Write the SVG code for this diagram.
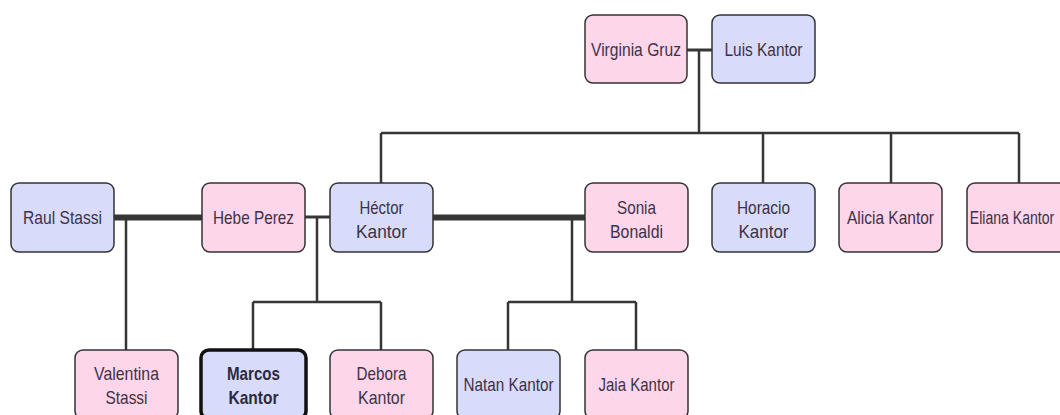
<svg xmlns="http://www.w3.org/2000/svg" width="1060" height="415" viewBox="0 0 1060 415">
  <style>
    .box { stroke: #333333; stroke-width: 1.5; }
    .f { fill: #fdd6ea; }
    .m { fill: #d8dcfa; }
    .self { stroke: #111111; stroke-width: 3.5; }
    .lbl { font-family: "Liberation Sans", Arial, sans-serif; font-size: 19px; fill: #3d3148; text-anchor: middle; }
    .bold { font-weight: bold; fill: #2c2a40; }
    .link { stroke: #363636; fill: none; stroke-width: 2.5; }
    .marriage { stroke: #363636; fill: none; stroke-width: 6; }
    .thin { stroke: #363636; fill: none; stroke-width: 3; }
  </style>
  <rect width="1060" height="415" fill="#ffffff"/>

  <!-- connectors -->
  <g id="connectors">
    <line class="thin" x1="687" y1="50" x2="712" y2="50" stroke-width="4"/>
    <path class="link" d="M699 50 V133 M381 133 H1019 M381 133 V183 M763 133 V183 M891 133 V183 M1019 133 V183"/>
    <line class="marriage" x1="114" y1="217.5" x2="202" y2="217.5"/>
    <path class="link" d="M126 217 V350"/>
    <line class="thin" x1="305" y1="217" x2="330" y2="217"/>
    <path class="link" d="M317 217 V302 M253 302 H381 M253 302 V350 M381 302 V350"/>
    <line class="marriage" x1="433" y1="217.5" x2="585" y2="217.5"/>
    <path class="link" d="M572 217 V302 M508 302 H636 M508 302 V350 M636 302 V350"/>
  </g>

  <!-- generation 1 -->
  <g id="virginia-gruz">
    <rect class="box f" x="585" y="15" width="102" height="68" rx="8"/>
    <text class="lbl" x="636" y="56" textLength="90" lengthAdjust="spacingAndGlyphs">Virginia Gruz</text>
  </g>
  <g id="luis-kantor">
    <rect class="box m" x="712" y="15" width="103" height="68" rx="8"/>
    <text class="lbl" x="763.5" y="56" textLength="78" lengthAdjust="spacingAndGlyphs">Luis Kantor</text>
  </g>

  <!-- generation 2 -->
  <g id="raul-stassi">
    <rect class="box m" x="11" y="183" width="103" height="69" rx="8"/>
    <text class="lbl" x="62.5" y="224" textLength="79" lengthAdjust="spacingAndGlyphs">Raul Stassi</text>
  </g>
  <g id="hebe-perez">
    <rect class="box f" x="202" y="183" width="103" height="69" rx="8"/>
    <text class="lbl" x="253.5" y="224" textLength="81" lengthAdjust="spacingAndGlyphs">Hebe Perez</text>
  </g>
  <g id="hector-kantor">
    <rect class="box m" x="330" y="183" width="103" height="69" rx="8"/>
    <text class="lbl" x="381.5" y="214" textLength="44" lengthAdjust="spacingAndGlyphs">Héctor</text>
    <text class="lbl" x="381.5" y="238" textLength="51" lengthAdjust="spacingAndGlyphs">Kantor</text>
  </g>
  <g id="sonia-bonaldi">
    <rect class="box f" x="585" y="183" width="103" height="69" rx="8"/>
    <text class="lbl" x="636.5" y="214" textLength="39" lengthAdjust="spacingAndGlyphs">Sonia</text>
    <text class="lbl" x="636.5" y="238" textLength="53" lengthAdjust="spacingAndGlyphs">Bonaldi</text>
  </g>
  <g id="horacio-kantor">
    <rect class="box m" x="712" y="183" width="103" height="69" rx="8"/>
    <text class="lbl" x="763.5" y="214" textLength="53" lengthAdjust="spacingAndGlyphs">Horacio</text>
    <text class="lbl" x="763.5" y="238" textLength="50" lengthAdjust="spacingAndGlyphs">Kantor</text>
  </g>
  <g id="alicia-kantor">
    <rect class="box f" x="839" y="183" width="103" height="69" rx="8"/>
    <text class="lbl" x="890.5" y="224" textLength="87" lengthAdjust="spacingAndGlyphs">Alicia Kantor</text>
  </g>
  <g id="eliana-kantor">
    <rect class="box f" x="967" y="183" width="103" height="69" rx="8"/>
    <!-- condensed with a horizontal scale so the label stays inside the canvas -->
    <text class="lbl" transform="translate(1012 224) scale(0.74 1)" x="0" y="0">Eliana Kantor</text>
  </g>

  <!-- generation 3 -->
  <g id="valentina-stassi">
    <rect class="box f" x="75" y="350" width="103" height="69" rx="8"/>
    <text class="lbl" x="126.5" y="380" textLength="65" lengthAdjust="spacingAndGlyphs">Valentina</text>
    <text class="lbl" x="126.5" y="404" textLength="42" lengthAdjust="spacingAndGlyphs">Stassi</text>
  </g>
  <g id="marcos-kantor">
    <rect class="box m self" x="201" y="350" width="105" height="69" rx="8"/>
    <text class="lbl bold" x="253.5" y="380" textLength="53" lengthAdjust="spacingAndGlyphs">Marcos</text>
    <text class="lbl bold" x="253.5" y="404" textLength="50" lengthAdjust="spacingAndGlyphs">Kantor</text>
  </g>
  <g id="debora-kantor">
    <rect class="box f" x="330" y="350" width="103" height="69" rx="8"/>
    <text class="lbl" x="381.5" y="380" textLength="50" lengthAdjust="spacingAndGlyphs">Debora</text>
    <text class="lbl" x="381.5" y="404" textLength="47" lengthAdjust="spacingAndGlyphs">Kantor</text>
  </g>
  <g id="natan-kantor">
    <rect class="box m" x="457" y="350" width="103" height="69" rx="8"/>
    <text class="lbl" x="508.5" y="391" textLength="90" lengthAdjust="spacingAndGlyphs">Natan Kantor</text>
  </g>
  <g id="jaia-kantor">
    <rect class="box f" x="585" y="350" width="103" height="69" rx="8"/>
    <text class="lbl" x="636.5" y="391" textLength="76" lengthAdjust="spacingAndGlyphs">Jaia Kantor</text>
  </g>
</svg>
